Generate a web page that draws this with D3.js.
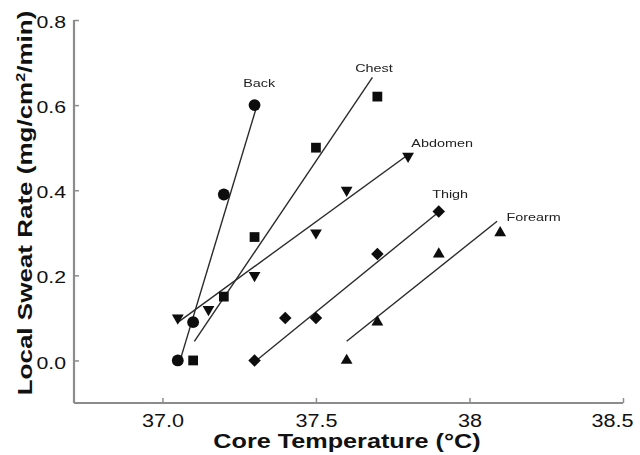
<!DOCTYPE html>
<html>
<head>
<meta charset="utf-8">
<script src="https://cdn.jsdelivr.net/npm/d3@7"></script>
<style>
  html, body { margin: 0; padding: 0; background: #fff; }
  svg { display: block; font-family: "Liberation Sans", Arial, sans-serif; }
</style>
</head>
<body>
<svg id="chart" width="640" height="455"></svg>
<script>
// Local sweat rate vs core temperature, per body site
const backX = [37.05, 37.1, 37.2, 37.3];
const backY = [0.0, 0.09, 0.39, 0.6];
const chestX = [37.1, 37.2, 37.3, 37.5, 37.7];
const chestY = [0.0, 0.15, 0.29, 0.5, 0.62];
const abdomenX = [37.05, 37.15, 37.3, 37.5, 37.6, 37.8];
const abdomenY = [0.1, 0.12, 0.2, 0.3, 0.4, 0.48];
const thighX = [37.3, 37.4, 37.5, 37.7, 37.9];
const thighY = [0.0, 0.1, 0.1, 0.25, 0.35];
const forearmX = [37.6, 37.7, 37.9, 38.1];
const forearmY = [0.0, 0.09, 0.25, 0.3];

// fitted lines: [x1, y1, x2, y2]
const backFit = [37.06, 0.006, 37.31, 0.604];
const chestFit = [37.104, 0.045, 37.684, 0.665];
const abdomenFit = [37.049, 0.089, 37.801, 0.484];
const thighFit = [37.306, 0.0, 37.902, 0.35];
const forearmFit = [37.6, 0.045, 38.09, 0.327];

const siteNames = ["Back", "Chest", "Abdomen", "Thigh", "Forearm"];

const xTicks = [37, 37.5, 38, 38.5];
const xTickLabels = ["37.0", "37.5", "38", "38.5"];
const yTicks = [0, 0.2, 0.4, 0.6, 0.8];
const yTickLabels = ["0.0", "0.2", "0.4", "0.6", "0.8"];

const xTitle = "Core Temperature (\u00B0C)";

const svg = d3.select("#chart");
const x = d3.scaleLinear().domain([36.712, 38.5]).range([74, 623]);
const y = d3.scaleLinear().domain([-0.1, 0.8]).range([403, 20]);

const axisColor = "#8c8c8c";
const WIDE = 1.25; // horizontal stretch of the lettering

// widen a text element's glyphs horizontally
function widen(sel, factor) {
  sel.each(function () {
    const len = this.getComputedTextLength();
    d3.select(this).attr("textLength", len * factor).attr("lengthAdjust", "spacingAndGlyphs");
  });
}

// Axes
const xAxis = svg.append("g").attr("transform", `translate(0,${y.range()[0]})`)
  .call(d3.axisBottom(x).tickValues(xTicks).tickSize(-5).tickPadding(9)
    .tickFormat((d, i) => xTickLabels[i]));
const yAxis = svg.append("g").attr("transform", `translate(${x.range()[0]},0)`)
  .call(d3.axisLeft(y).tickValues(yTicks).tickSize(-5).tickPadding(8)
    .tickFormat((d, i) => yTickLabels[i]));

[xAxis, yAxis].forEach(g => {
  g.select(".domain").attr("stroke", axisColor).attr("stroke-width", 2.2);
  g.selectAll(".tick line").attr("stroke", axisColor).attr("stroke-width", 1.5);
  g.selectAll(".tick text").attr("fill", "#111")
    .style("font-family", "Liberation Sans, Arial, sans-serif");
});
xAxis.selectAll(".tick text").style("font-size", "18px").attr("y", 24).attr("dy", 0);
yAxis.selectAll(".tick text").style("font-size", "17px").attr("dy", "0.45em");
widen(xAxis.selectAll(".tick text"), 1.2);
widen(yAxis.selectAll(".tick text"), WIDE);
// keep the last x label inside the frame
xAxis.selectAll(".tick text").filter((d, i, n) => i === n.length - 1)
  .attr("text-anchor", "end").attr("x", 10);

// Plain axis lines (no end caps)
xAxis.select(".domain").attr("d", `M${x.range()[0]},0H${x.range()[1]}`);
yAxis.select(".domain").attr("d", `M0,${y.range()[1]}V${y.range()[0]}`);

// Axis titles
svg.append("text")
  .attr("x", 347).attr("y", 448)
  .attr("text-anchor", "middle")
  .style("font-size", "20px").style("font-weight", "bold").attr("fill", "#111")
  .text(xTitle)
  .call(widen, 1.26);

const yTitle = svg.append("text")
  .attr("text-anchor", "middle")
  .style("font-size", "21px").style("font-weight", "bold").attr("fill", "#111");
yTitle.append("tspan").text("Local Sweat Rate (mg/cm");
yTitle.append("tspan").attr("dy", -7).style("font-size", "13px").text("2");
yTitle.append("tspan").attr("dy", 7).text("/min)");
{
  const len = yTitle.node().getComputedTextLength();
  const k = 385 / len;
  yTitle.attr("transform", `translate(32,203) scale(1,${k}) rotate(-90)`);
}

// Plot marks, slightly softened
const defs = svg.append("defs");
defs.append("filter").attr("id", "soft")
  .attr("x", "-10%").attr("y", "-10%").attr("width", "120%").attr("height", "120%")
  .append("feGaussianBlur").attr("stdDeviation", 0.6);

const plot = svg.append("g").attr("filter", "url(#soft)");

const sites = [
  { xs: backX, ys: backY, fit: backFit, symbol: d3.symbolCircle, size: 110, rotate: 0 },
  { xs: chestX, ys: chestY, fit: chestFit, symbol: d3.symbolSquare, size: 95, rotate: 0 },
  { xs: abdomenX, ys: abdomenY, fit: abdomenFit, symbol: d3.symbolTriangle, size: 60, rotate: 180 },
  { xs: thighX, ys: thighY, fit: thighFit, symbol: d3.symbolSquare, size: 78, rotate: 45 },
  { xs: forearmX, ys: forearmY, fit: forearmFit, symbol: d3.symbolTriangle, size: 60, rotate: 0 }
];

sites.forEach(s => {
  plot.append("line")
    .attr("x1", x(s.fit[0])).attr("y1", y(s.fit[1]))
    .attr("x2", x(s.fit[2])).attr("y2", y(s.fit[3]))
    .attr("stroke", "#2a2a2a").attr("stroke-width", 1.4);
});

sites.forEach(s => {
  const sym = d3.symbol().type(s.symbol).size(s.size);
  plot.append("g").selectAll("path")
    .data(s.xs.map((v, i) => [v, s.ys[i]]))
    .join("path")
    .attr("d", sym)
    .attr("fill", "#0a0a0a")
    .attr("transform", d => `translate(${x(d[0])},${y(d[1])}) rotate(${s.rotate})`);
});

// Site labels near the upper end of each line
const labelX = [37.315, 37.689, 37.911, 37.937, 38.209];
const labelY = [0.652, 0.687, 0.511, 0.391, 0.337];
plot.selectAll("text.site")
  .data(siteNames)
  .join("text")
  .attr("class", "site")
  .attr("x", (d, i) => x(labelX[i]))
  .attr("y", (d, i) => y(labelY[i]) + 4)
  .attr("text-anchor", "middle")
  .style("font-size", "11.5px")
  .attr("fill", "#222")
  .text(d => d)
  .call(widen, WIDE);
</script>
</body>
</html>
